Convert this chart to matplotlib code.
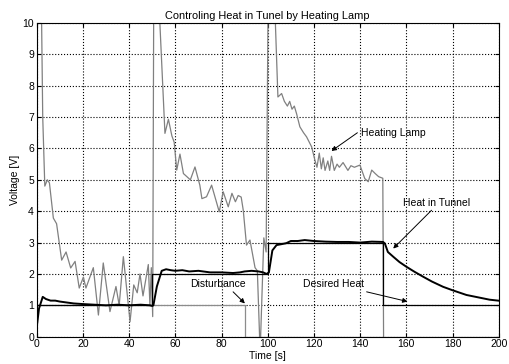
import matplotlib
matplotlib.use("Agg")
import matplotlib.pyplot as plt

plt.rcParams['font.family'] = ['Liberation Sans', 'DejaVu Sans']

# heating lamp voltage (gray)
lamp_t = [0, 0.5, 1.8, 2.6, 3.5, 4.6, 5.5, 7.2, 8.6, 10.8, 12.7, 14.7, 16.6, 18.4,
          20.2, 21.3, 24.5, 26.7, 28.8, 31.7, 34.3, 35.7, 37.5, 40.4, 42.0, 43.5,
          44.7, 46.0, 48.3, 49.0, 49.6, 50.2, 50.7, 52.5, 53.3, 55.5, 57.0, 58.5,
          59.5, 60.6, 62.0, 63.5, 65.0, 66.5, 68.5, 70.6, 71.5, 73.5, 75.7, 79.0,
          80.7, 82.9, 84.5, 86.0, 87.2, 88.5, 89.4, 90.8, 92.3, 94.5, 95.5, 96.7,
          98.3, 99.3, 100.3, 102.5, 103.3, 104.4, 106.0, 107.2, 108.5, 109.5,
          110.5, 111.5, 112.5, 113.9, 115.5, 116.8, 119.0, 120.4, 121.3, 122.3,
          123.2, 124.0, 124.8, 126.0, 126.8, 127.6, 128.8, 130.0, 131.0, 132.6,
          134.7, 136.0, 137.5, 139.9, 142.0, 143.5, 145.0, 146.5, 148.0, 149.8,
          150.2, 200]
lamp_v = [12, 14, 12, 7.0, 4.8, 5.0, 4.9, 3.78, 3.6, 2.44, 2.7, 2.19, 2.4, 1.55,
          1.9, 1.55, 2.2, 0.69, 2.35, 0.8, 1.6, 1.0, 2.55, 0.48, 1.65, 1.4,
          2.0, 1.3, 2.3, 1.0, 2.2, 0.64, 12, 12, 10.0, 6.48, 6.93, 6.4,
          6.2, 5.31, 5.82, 5.2, 5.1, 5.0, 5.41, 4.83, 4.4, 4.46, 4.83, 3.98,
          4.62, 4.14, 4.57, 4.3, 4.5, 4.45, 4.03, 2.92, 3.08, 2.2, 2.1, -0.5,
          3.15, 2.7, 12, 12, 10.0, 7.64, 7.75, 7.5, 7.35, 7.5,
          7.25, 7.35, 7.1, 6.69, 6.5, 6.37, 6.05, 5.63, 5.4, 5.85,
          5.35, 5.7, 5.3, 5.6, 5.3, 5.75, 5.3, 5.5, 5.4, 5.55,
          5.3, 5.45, 5.4, 5.47, 5.04, 4.94, 5.31, 5.2, 5.1, 5.05,
          -1, -1]

# measured heat in tunnel (black, thick)
heat_t = [0, 1, 2.6, 4, 6, 8, 10, 12, 14, 16, 18, 20, 25, 30, 35, 40, 45, 49,
          50, 50.5, 52, 54.1, 56, 58, 60, 63, 66, 70, 75, 80, 85, 88, 90, 93,
          96, 98, 99.5, 100.5, 102, 103.8, 106, 108, 110, 113, 116, 120, 125,
          130, 135, 140, 145, 149.9, 150.7, 152, 154.3, 157, 160, 163.5, 167.3,
          171, 175.9, 180, 186, 192, 196, 199.7]
heat_v = [0.3, 0.9, 1.27, 1.2, 1.15, 1.15, 1.12, 1.1, 1.08, 1.06, 1.05, 1.04,
          1.02, 1.0, 1.02, 1.0, 1.02, 1.0, 0.98, 1.0, 1.6, 2.1, 2.15, 2.12, 2.1,
          2.12, 2.08, 2.1, 2.05, 2.05, 2.03, 2.05, 2.08, 2.1, 2.08, 2.05, 2.0,
          2.05, 2.75, 2.92, 2.95, 2.98, 3.05, 3.05, 3.08, 3.05, 3.03, 3.02, 3.02,
          3.0, 3.03, 3.02, 2.97, 2.7, 2.55, 2.38, 2.23, 2.07, 1.91, 1.76, 1.59,
          1.48, 1.33, 1.24, 1.18, 1.15]

# setpoint and disturbance (step signals)
desired_t = [0, 50, 100, 150, 200]
desired_v = [1, 2, 3, 1, 1]
dist_t = [0, 90, 200]
dist_v = [1, 0, 0]

fig = plt.figure(figsize=(5.10, 3.64), dpi=100)
ax = fig.add_axes([0.072, 0.075, 0.906, 0.862])

ax.plot(dist_t, dist_v, drawstyle='steps-post', color='#8c8c8c', lw=0.9)
ax.plot(lamp_t, lamp_v, color='#808080', lw=0.9)
ax.plot(desired_t, desired_v, drawstyle='steps-post', color='black', lw=0.9)
ax.plot(heat_t, heat_v, color='black', lw=1.4)

ax.set_xlim(0, 200)
ax.set_ylim(0, 10)
ax.set_xticks(range(0, 201, 20))
ax.set_yticks(range(0, 11))
ax.grid(True, color='black', linestyle=':', linewidth=0.8)
ax.tick_params(direction='in', top=True, right=True, labelsize=7.5, length=3,
               pad=2)
for s in ax.spines.values():
    s.set_linewidth(0.8)

ax.set_title('Controling Heat in Tunel by Heating Lamp', fontsize=7.9, pad=3)
ax.set_xlabel('Time [s]', fontsize=7.5, labelpad=1)
ax.set_ylabel('Voltage [V]', fontsize=7.5, labelpad=2)

arrow = dict(arrowstyle='-|>', color='black', lw=0.7, mutation_scale=7,
             shrinkA=0, shrinkB=0)
ax.text(140.5, 6.5, 'Heating Lamp', fontsize=7.5, va='center', ha='left')
ax.annotate('', xy=(127.6, 5.92), xytext=(138.8, 6.5), arrowprops=arrow)
ax.text(158.5, 4.27, 'Heat in Tunnel', fontsize=7.5, va='center', ha='left')
ax.annotate('', xy=(154.3, 2.81), xytext=(170.9, 4.03), arrowprops=arrow)
ax.text(66.3, 1.67, 'Disturbance', fontsize=7.5, va='center', ha='left')
ax.annotate('', xy=(90.1, 1.06), xytext=(85.0, 1.43), arrowprops=arrow)
ax.text(115.3, 1.67, 'Desired Heat', fontsize=7.5, va='center', ha='left')
ax.annotate('', xy=(160.5, 1.12), xytext=(142.8, 1.43), arrowprops=arrow)

fig.savefig('out.png', dpi=100)
